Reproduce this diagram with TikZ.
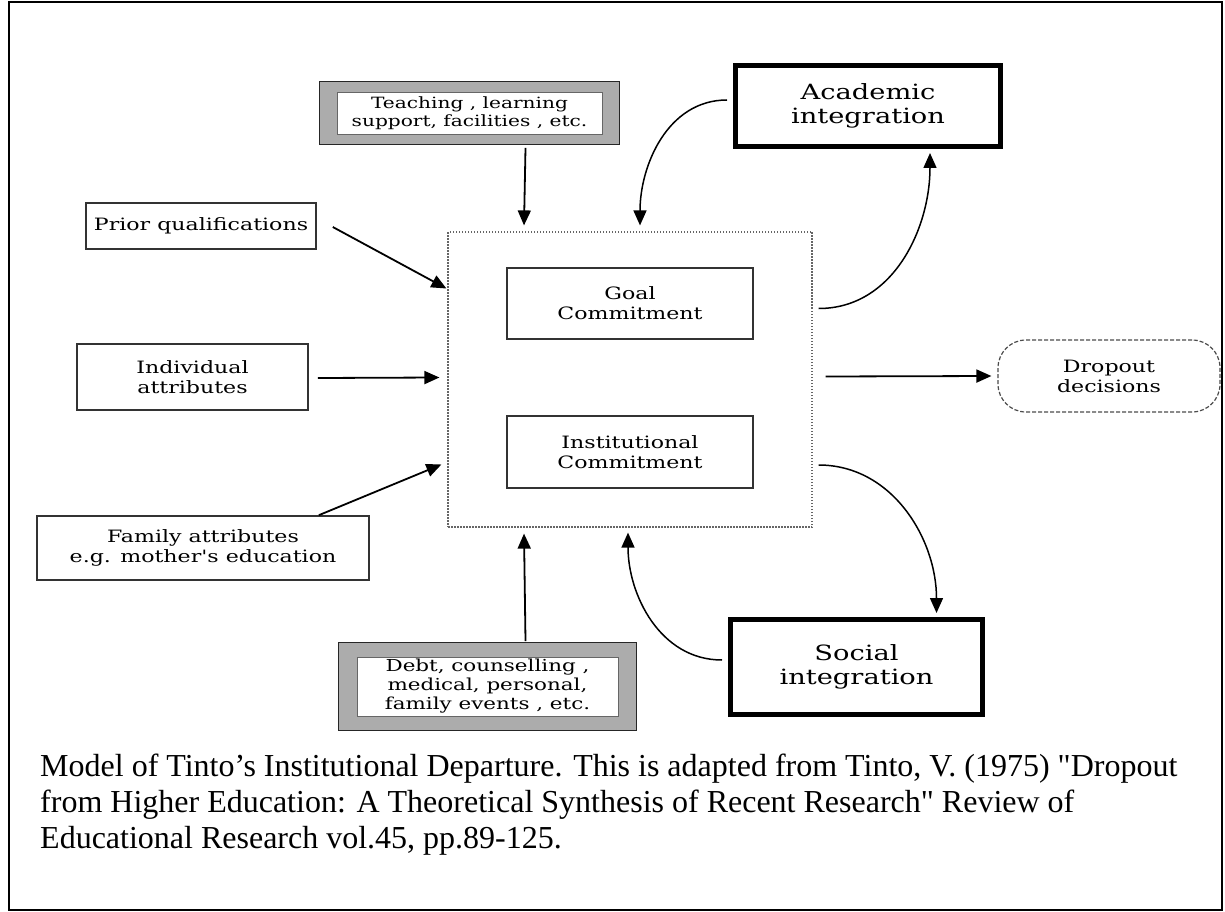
\documentclass[tikz,border=0pt]{standalone}
\usepackage{fontspec}
\newfontfamily\labelfont[FakeStretch=1.3]{DejaVu Serif}
\newfontfamily\capfont{Liberation Serif}
\usetikzlibrary{arrows.meta,positioning,fit,calc,backgrounds}

\begin{document}
\begin{tikzpicture}[
    x=1pt, y=-1pt,
    box/.style={draw=black!80, line width=1.6pt, inner sep=0pt, align=center, font=\labelfont\fontsize{17}{20}\selectfont},
    bigbox/.style={box, draw=black, line width=5pt, font=\labelfont\fontsize{21}{24}\selectfont},
    shadebox/.style={box, draw=black!60, line width=0.6pt, fill=white, font=\labelfont\fontsize{15.5}{18}\selectfont},
    shadeframe/.style={draw=black!85, line width=1pt, fill=gray!65, inner sep=0pt},
    arr/.style={-{Triangle[length=15pt,width=13pt]}, line width=1.8pt},
    curvearr/.style={arr, line width=1.5pt}
  ]
  \useasboundingbox (0,0) rectangle (1225,912);
  \draw[line width=1.5pt] (9,2) rectangle (1222,910);

  % centre block
  \node[draw=black!60, dash pattern=on 1.5pt off 1.5pt, line width=1.2pt, minimum width=364pt, minimum height=295pt] (central) at (630,379.5) {};
  \node[box, minimum width=246pt, minimum height=71pt] (goal) at (630,303.5) {Goal\\Commitment};
  \node[box, minimum width=246pt, minimum height=72pt] (inst) at (630,452) {Institutional\\Commitment};

  % background factors
  \node[box, minimum width=230pt, minimum height=46pt] (prior) at (201,226) {Prior qualifications};
  \node[box, minimum width=231pt, minimum height=66pt] (indiv) at (192.5,377) {Individual\\attributes};
  \node[box, minimum width=332pt, minimum height=64pt] (family) at (203,548) {Family attributes\\e.g. mother's education};

  % institution
  \node[shadebox, minimum width=265pt, minimum height=42pt] (teach) at (469.5,113) {Teaching , learning\\support, facilities , etc.};
  \node[shadebox, font=\labelfont\fontsize{16.5}{19}\selectfont, minimum width=261pt, minimum height=59pt] (debt) at (487.5,686.5) {Debt, counselling ,\\medical, personal,\\family events , etc.};
  \begin{scope}[on background layer]
    \node[shadeframe, fit=(teach), inner xsep=17pt, inner ysep=10pt] (teachframe) {};
    \node[shadeframe, fit=(debt), inner xsep=18pt, inner ysep=14pt] (debtframe) {};
  \end{scope}

  % integration and outcome
  \node[bigbox, minimum width=265pt, minimum height=81pt] (academic) at (868,106) {Academic\\integration};
  \node[bigbox, minimum width=252pt, minimum height=95pt] (social) at (856.5,667) {Social\\integration};
  \node[box, draw=black!70, line width=1.2pt, dash pattern=on 4pt off 2pt, rounded corners=28pt, minimum width=222pt, minimum height=72pt] (dropout) at (1109,376) {Dropout\\decisions};

  % straight arrows
  \draw[arr] ($(teachframe.south)+(56,3)$) -- ($(central.north)+(-106,-6)$);
  \draw[arr] ($(debtframe.north)+(38,-1)$) -- ($(central.south)+(-106,6)$);
  \draw[arr] ($(prior.east)+(16,1)$) -- ($(central.west)+(-1,-91)$);
  \draw[arr] ($(indiv.east)+(9,1)$) -- ($(central.west)+(-8,-2)$);
  \draw[arr] ($(family.north east)+(-51,0)$) -- ($(central.west)+(-6,85)$);
  \draw[arr] ($(central.east)+(13,-3)$) -- ($(dropout.west)+(-6,0)$);

  % feedback loops
  \draw[curvearr] ($(central.east |- goal.east)+(6,5)$) to[out=0, in=-90] ($(academic.south)+(62,4)$);
  \draw[curvearr] ($(academic.west)+(-6,-6)$) to[out=180, in=90] ($(central.north)+(10,-6)$);
  \draw[curvearr] ($(central.east |- inst.east)+(6,13)$) to[out=0, in=90] ($(social.north)+(80,-4)$);
  \draw[curvearr] ($(social.west)+(-6,-7)$) to[out=180, in=-90] ($(central.south)+(-2,5)$);

  % caption
  \node[anchor=north west, inner sep=0pt, align=left, font=\capfont\fontsize{32}{36}\selectfont] (caption) at (40,754)
    {Model of Tinto’s Institutional Departure. This is adapted from Tinto, V. (1975) "Dropout\\
     from Higher Education: A Theoretical  Synthesis of Recent Research" Review of\\
     Educational Research vol.45, pp.89-125.};
\end{tikzpicture}
\end{document}
